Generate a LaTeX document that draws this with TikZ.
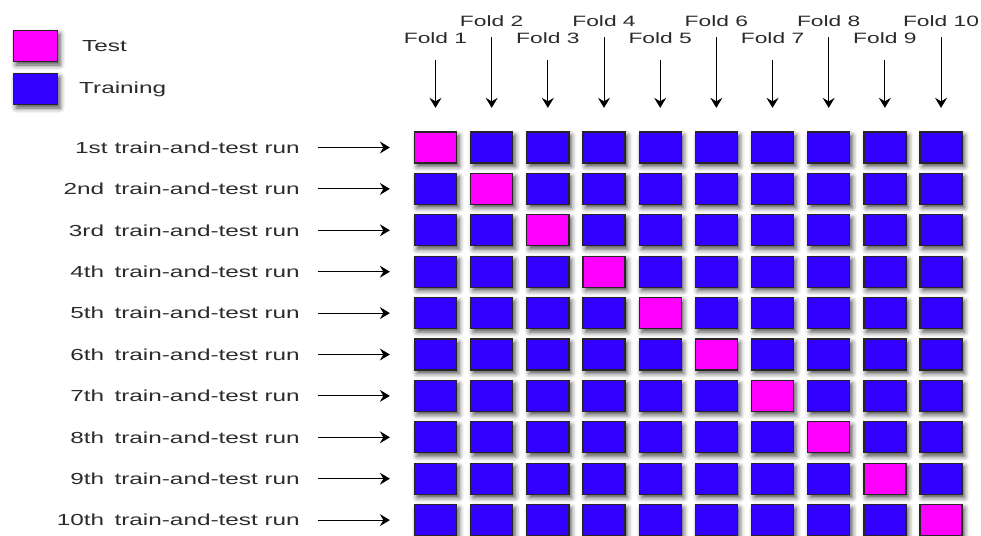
\documentclass[tikz,border=0pt]{standalone}
\usepackage{fontspec}
\setmainfont{Liberation Sans}[FakeStretch=1.52]
\usetikzlibrary{arrows.meta,shadows.blur}
\definecolor{trainblue}{HTML}{3300FF}
\definecolor{testmag}{HTML}{FF00FF}
\definecolor{txtgrey}{HTML}{2B2B2B}
\begin{document}
\begin{tikzpicture}[x=1pt,y=-1pt,
  cell/.style={draw=black!85, line width=1.3pt, minimum width=42pt, minimum height=31pt, inner sep=0pt,
    blur shadow={shadow xshift=2.5pt, shadow yshift=-3.5pt, shadow blur radius=5pt, shadow opacity=70}},
  train/.style={cell, fill=trainblue},
  testc/.style={cell, fill=testmag},
  lbl/.style={font=\fontsize{15}{18}\selectfont, text=txtgrey, inner sep=0pt},
  rowlbl/.style={font=\fontsize{16}{19}\selectfont, text=txtgrey, inner sep=0pt},
  leglbl/.style={font=\fontsize{16}{19}\selectfont, text=txtgrey, inner sep=0pt},
  arr/.style={-{Stealth[length=10pt,width=12pt,inset=3.5pt]}, line width=1pt, draw=black}
]
\useasboundingbox (0,0) rectangle (981,535);
\clip (0,0) rectangle (981,535);

% legend
\node[testc, minimum width=44pt] (legtest) at (35.5,46) {};
\node[train, minimum width=44pt] (legtrain) at (35.5,89) {};
\node[leglbl, anchor=west] (legtesttxt) at (82,46) {Test};
\node[leglbl, anchor=west] (legtraintxt) at (79,89) {Training};

% grid
\foreach \r in {1,...,10}{
  \foreach \c in {1,...,10}{
    \ifnum\r=\c \def\st{testc}\else\def\st{train}\fi
    \node[\st] (b\r-\c) at ({435.5+(\c-1)*56.17},{147.5+(\r-1)*41.4}) {};
  }
}

% row labels
\foreach \r/\o/\g in {1/1st/7pt,2/2nd/10.5pt,3/3rd/10.5pt,4/4th/10.5pt,5/5th/10.5pt,6/6th/10.5pt,7/7th/10.5pt,8/8th/10.5pt,9/9th/10.5pt,10/10th/10.5pt}{
  \node[rowlbl, anchor=east] (lab\r) at (300,{147.5+(\r-1)*41.4}) {\o\hspace{\g}train-and-test run};
  \draw[arr, shorten <=18pt, shorten >=24pt] (lab\r.east) -- (b\r-1.west);
}

% fold labels
\foreach \c in {1,3,5,7,9}{
  \node[lbl, anchor=base] (f\c) at ({435.5+(\c-1)*56.17},43.7) {Fold \c};
  \draw[arr, shorten <=16pt, shorten >=23.5pt] (f\c.south) -- (b1-\c.north);
}
\foreach \c in {2,4,6,8,10}{
  \node[lbl, anchor=base] (f\c) at ({435.5+(\c-1)*56.17},26.3) {Fold \c};
  \draw[arr, shorten <=10.7pt, shorten >=23.5pt] (f\c.south) -- (b1-\c.north);
}
\end{tikzpicture}
\end{document}
